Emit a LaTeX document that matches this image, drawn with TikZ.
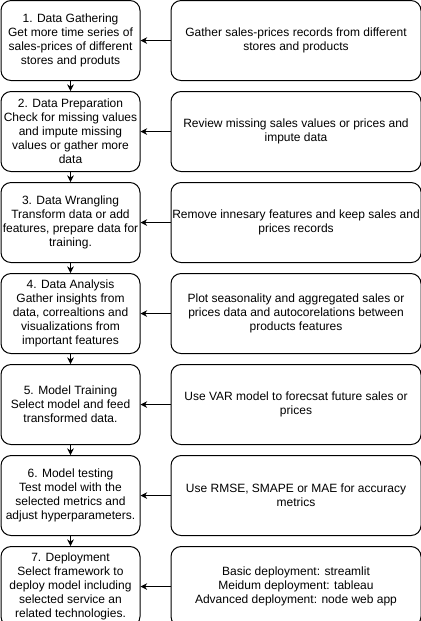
\documentclass[tikz,border=0pt]{standalone}
\usepackage{fontspec}
\setmainfont{Liberation Sans}
\usetikzlibrary{positioning, arrows.meta}
\tikzset{%
  >={Stealth[width=5pt, length=5pt]}, % small solid arrow heads
  node distance=7.5pt and 22.5pt, % gap between rows, gap between columns
  % one step of the pipeline (left column)
  stepbox/.style={rectangle, draw, rounded corners=7.5pt, line width=0.75pt,
    minimum width=104.25pt, minimum height=60pt, inner sep=1pt,
    align=center, font=\fontsize{9}{10.5}\selectfont},
  % what is done in that step (right column)
  taskbox/.style={stepbox, minimum width=187.5pt},
  flow/.style={->, line width=0.75pt},
}

\begin{document}
\begin{tikzpicture}
  \useasboundingbox (0,0) rectangle (315.75pt,-465.75pt);

  \node[stepbox] (step1) at (52.875pt,-30.4pt) {1. Data Gathering\\Get more time series of\\sales-prices of different\\stores and produts};
  \node[stepbox, below=of step1] (step2) {2. Data Preparation\\Check for missing values\\and impute missing\\values or gather more\\data};
  \node[stepbox, below=of step2] (step3) {3. Data Wrangling\\Transform data or add\\features, prepare data for\\training.};
  \node[stepbox, below=of step3] (step4) {4. Data Analysis\\Gather insights from\\data, correaltions and\\visualizations from\\important features};
  \node[stepbox, below=of step4] (step5) {5. Model Training\\Select model and feed\\transformed data.};
  \node[stepbox, below=of step5] (step6) {6. Model testing\\Test model with the\\selected metrics and\\adjust hyperparameters.};
  \node[stepbox, below=of step6] (step7) {7. Deployment\\Select framework to\\deploy model including\\selected service an\\related technologies.};

  \node[taskbox, right=of step1] (task1) {Gather sales-prices records from different\\stores and products};
  \node[taskbox, right=of step2] (task2) {Review missing sales values or prices and\\impute data};
  \node[taskbox, right=of step3] (task3) {Remove innesary features and keep sales and\\prices records};
  \node[taskbox, right=of step4] (task4) {Plot seasonality and aggregated sales or\\prices data and autocorelations between\\products features};
  \node[taskbox, right=of step5] (task5) {Use VAR model to forecsat future sales or\\prices};
  \node[taskbox, right=of step6] (task6) {Use RMSE, SMAPE or MAE for accuracy\\metrics};
  \node[taskbox, right=of step7] (task7) {Basic deployment: streamlit\\Meidum deployment: tableau\\Advanced deployment: node web app};

  \foreach \i in {1,...,7} {
    \draw[flow] (task\i) -- (step\i);
  }
  \foreach \i [remember=\i as \j (initially 1)] in {2,...,7} {
    \draw[flow] (step\j) -- (step\i);
  }
\end{tikzpicture}
\end{document}
